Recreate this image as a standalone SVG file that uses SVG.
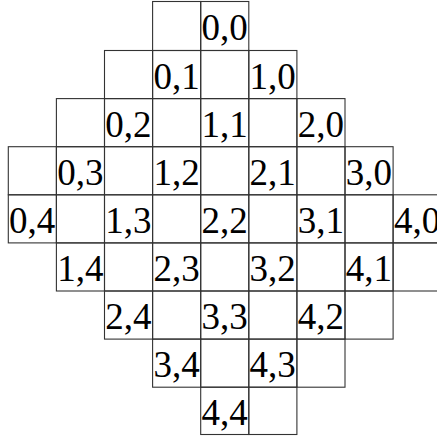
<svg xmlns="http://www.w3.org/2000/svg" width="437" height="439" viewBox="0 0 437 439">
<style>
rect{fill:none;stroke:#333;stroke-width:1.1}
</style>
<rect width="437" height="439" style="fill:#fff;stroke:none"/>
<g font-family="'Times New Roman', Times, 'Liberation Serif', Tinos, 'Nimbus Roman', FreeSerif, 'DejaVu Serif', serif" font-size="37" fill="#000">
<g id="row0">
<g id="n-0-3"><rect x="152.6" y="1.5" width="48.1" height="49"/></g>
<g id="n-0-4"><rect x="200.7" y="1.5" width="48.1" height="49"/><text x="201.5" y="39.5">0,0</text></g>
</g>
<g id="row1">
<g id="n-1-2"><rect x="104.5" y="50.5" width="48.1" height="48.1"/></g>
<g id="n-1-3"><rect x="152.6" y="50.5" width="48.1" height="48.1"/><text x="153.4" y="88.5">0,1</text></g>
<g id="n-1-4"><rect x="200.7" y="50.5" width="48.1" height="48.1"/></g>
<g id="n-1-5"><rect x="248.8" y="50.5" width="48.1" height="48.1"/><text x="249.6" y="88.5">1,0</text></g>
</g>
<g id="row2">
<g id="n-2-1"><rect x="56.4" y="98.6" width="48.1" height="48.1"/></g>
<g id="n-2-2"><rect x="104.5" y="98.6" width="48.1" height="48.1"/><text x="105.3" y="136.6">0,2</text></g>
<g id="n-2-3"><rect x="152.6" y="98.6" width="48.1" height="48.1"/></g>
<g id="n-2-4"><rect x="200.7" y="98.6" width="48.1" height="48.1"/><text x="201.5" y="136.6">1,1</text></g>
<g id="n-2-5"><rect x="248.8" y="98.6" width="48.1" height="48.1"/></g>
<g id="n-2-6"><rect x="296.9" y="98.6" width="48.1" height="48.1"/><text x="297.7" y="136.6">2,0</text></g>
</g>
<g id="row3">
<g id="n-3-0"><rect x="8.3" y="146.7" width="48.1" height="48.1"/></g>
<g id="n-3-1"><rect x="56.4" y="146.7" width="48.1" height="48.1"/><text x="57.2" y="184.7">0,3</text></g>
<g id="n-3-2"><rect x="104.5" y="146.7" width="48.1" height="48.1"/></g>
<g id="n-3-3"><rect x="152.6" y="146.7" width="48.1" height="48.1"/><text x="153.4" y="184.7">1,2</text></g>
<g id="n-3-4"><rect x="200.7" y="146.7" width="48.1" height="48.1"/></g>
<g id="n-3-5"><rect x="248.8" y="146.7" width="48.1" height="48.1"/><text x="249.6" y="184.7">2,1</text></g>
<g id="n-3-6"><rect x="296.9" y="146.7" width="48.1" height="48.1"/></g>
<g id="n-3-7"><rect x="345" y="146.7" width="48.1" height="48.1"/><text x="345.8" y="184.7">3,0</text></g>
</g>
<g id="row4">
<g id="n-4-0"><rect x="8.3" y="194.8" width="48.1" height="48.1"/><text x="9.1" y="232.8">0,4</text></g>
<g id="n-4-1"><rect x="56.4" y="194.8" width="48.1" height="48.1"/></g>
<g id="n-4-2"><rect x="104.5" y="194.8" width="48.1" height="48.1"/><text x="105.3" y="232.8">1,3</text></g>
<g id="n-4-3"><rect x="152.6" y="194.8" width="48.1" height="48.1"/></g>
<g id="n-4-4"><rect x="200.7" y="194.8" width="48.1" height="48.1"/><text x="201.5" y="232.8">2,2</text></g>
<g id="n-4-5"><rect x="248.8" y="194.8" width="48.1" height="48.1"/></g>
<g id="n-4-6"><rect x="296.9" y="194.8" width="48.1" height="48.1"/><text x="297.7" y="232.8">3,1</text></g>
<g id="n-4-7"><rect x="345" y="194.8" width="48.1" height="48.1"/></g>
<g id="n-4-8"><rect x="393.1" y="194.8" width="48.1" height="48.1"/><text x="393.9" y="232.8">4,0</text></g>
</g>
<g id="row5">
<g id="n-5-1"><rect x="56.4" y="242.9" width="48.1" height="48.1"/><text x="57.2" y="280.9">1,4</text></g>
<g id="n-5-2"><rect x="104.5" y="242.9" width="48.1" height="48.1"/></g>
<g id="n-5-3"><rect x="152.6" y="242.9" width="48.1" height="48.1"/><text x="153.4" y="280.9">2,3</text></g>
<g id="n-5-4"><rect x="200.7" y="242.9" width="48.1" height="48.1"/></g>
<g id="n-5-5"><rect x="248.8" y="242.9" width="48.1" height="48.1"/><text x="249.6" y="280.9">3,2</text></g>
<g id="n-5-6"><rect x="296.9" y="242.9" width="48.1" height="48.1"/></g>
<g id="n-5-7"><rect x="345" y="242.9" width="48.1" height="48.1"/><text x="345.8" y="280.9">4,1</text></g>
<g id="n-5-8"><rect x="393.1" y="242.9" width="48.1" height="48.1"/></g>
</g>
<g id="row6">
<g id="n-6-2"><rect x="104.5" y="291" width="48.1" height="48.1"/><text x="105.3" y="329">2,4</text></g>
<g id="n-6-3"><rect x="152.6" y="291" width="48.1" height="48.1"/></g>
<g id="n-6-4"><rect x="200.7" y="291" width="48.1" height="48.1"/><text x="201.5" y="329">3,3</text></g>
<g id="n-6-5"><rect x="248.8" y="291" width="48.1" height="48.1"/></g>
<g id="n-6-6"><rect x="296.9" y="291" width="48.1" height="48.1"/><text x="297.7" y="329">4,2</text></g>
<g id="n-6-7"><rect x="345" y="291" width="48.1" height="48.1"/></g>
</g>
<g id="row7">
<g id="n-7-3"><rect x="152.6" y="339.1" width="48.1" height="48.1"/><text x="153.4" y="377.1">3,4</text></g>
<g id="n-7-4"><rect x="200.7" y="339.1" width="48.1" height="48.1"/></g>
<g id="n-7-5"><rect x="248.8" y="339.1" width="48.1" height="48.1"/><text x="249.6" y="377.1">4,3</text></g>
<g id="n-7-6"><rect x="296.9" y="339.1" width="48.1" height="48.1"/></g>
</g>
<g id="row8">
<g id="n-8-4"><rect x="200.7" y="387.2" width="48.1" height="47.3"/><text x="201.5" y="425.2">4,4</text></g>
<g id="n-8-5"><rect x="248.8" y="387.2" width="48.1" height="47.3"/></g>
</g>
</g>
<g id="connectors"/>
</svg>
